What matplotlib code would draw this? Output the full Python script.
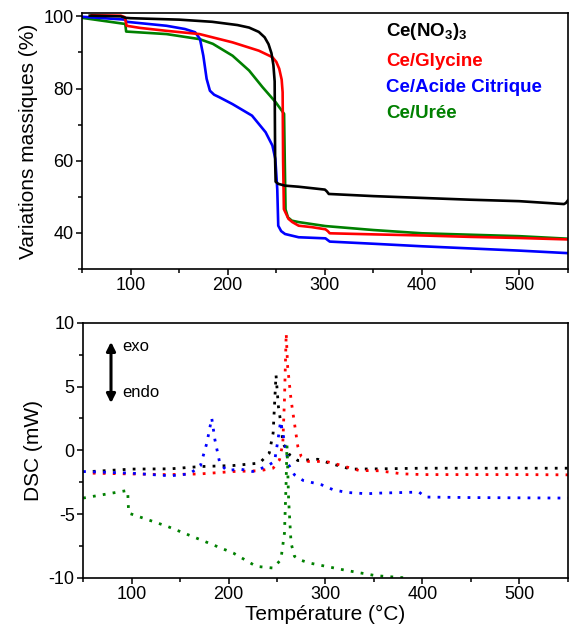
import matplotlib
matplotlib.use('Agg')
import matplotlib.pyplot as plt
from matplotlib.ticker import MultipleLocator

plt.rcParams['font.family'] = ['Liberation Sans', 'DejaVu Sans']
plt.rcParams['axes.unicode_minus'] = False
plt.rcParams['mathtext.fontset'] = 'custom'
plt.rcParams['mathtext.rm'] = 'Liberation Sans'
plt.rcParams['mathtext.bf'] = 'Liberation Sans:bold'

# --- TGA (mass %) ---
tga_black_x = [58, 90, 95, 100, 150, 184, 210, 222, 232, 238, 242, 245, 247, 248.3, 248.8, 249.3, 252, 259, 273, 290, 300, 302, 304, 350, 400, 450, 500, 546, 548, 550]
tga_black_y = [100.2, 100.0, 99.6, 99.5, 99.1, 98.5, 97.6, 96.9, 95.7, 94.2, 92.3, 89.8, 86.5, 82, 60, 54.2, 53.6, 53.1, 52.8, 52.3, 52.0, 51.5, 50.8, 50.2, 49.7, 49.2, 48.8, 48.0, 48.3, 49.0]

tga_red_x = [60, 90, 94, 96, 110, 137, 171, 205, 232, 246, 250, 253, 255.5, 256.5, 257, 257.8, 262.5, 266.5, 273, 286.6, 300.6, 303, 305, 350, 400, 450, 500, 550]
tga_red_y = [100.3, 100.2, 99.8, 97.4, 96.8, 96.0, 95.1, 92.8, 90.5, 88.7, 87.4, 85.5, 82.5, 79, 60, 46.6, 43.9, 43.0, 42.0, 41.6, 41.0, 40.5, 39.9, 39.6, 39.3, 38.9, 38.6, 38.2]

tga_blue_x = [50, 94.6, 96, 137, 156, 166.5, 171.5, 174.9, 178.3, 181.7, 186, 191.4, 204.9, 225, 239, 246, 249, 251, 252, 255, 259, 273, 300.6, 303, 305, 350, 400, 450, 500, 550]
tga_blue_y = [99.9, 99.1, 98.5, 97.4, 96.5, 95.6, 93.7, 89.1, 82.7, 79.4, 78.3, 77.6, 75.7, 72.5, 67.9, 64.2, 60.5, 52, 42, 40.5, 39.7, 38.8, 38.5, 38.0, 37.6, 37.0, 36.3, 35.7, 35.1, 34.4]

tga_green_x = [50, 94.6, 95.5, 137, 171, 184.7, 205, 222, 235.8, 249.4, 258, 258.7, 259.5, 262, 266, 273, 300.6, 350, 400, 450, 500, 550]
tga_green_y = [99.6, 97.9, 95.8, 95.1, 93.7, 92.4, 89.1, 85.0, 80.4, 76.2, 73.0, 60, 46.5, 44.3, 43.4, 43.0, 41.9, 40.8, 39.9, 39.5, 39.1, 38.4]

# --- DSC (mW) ---
dsc_black_x = [60, 100, 140, 171, 205, 232, 242, 246, 249, 251.5, 254.5, 256, 263, 271.5, 292, 304, 326, 355, 400, 450, 500, 550]
dsc_black_y = [-1.65, -1.47, -1.45, -1.27, -1.19, -1.0, -0.22, 1.35, 5.9, 3.4, 1.86, 0.56, -0.35, -0.8, -0.7, -1.0, -1.47, -1.45, -1.4, -1.4, -1.4, -1.4]

dsc_red_x = [60, 100, 137, 170, 205, 232, 246, 252.6, 256, 257.7, 259.5, 261, 264.5, 268, 271.5, 275, 282, 300.6, 312.5, 334.7, 355, 378.8, 400, 450, 500, 550]
dsc_red_y = [-1.79, -1.85, -1.9, -1.85, -1.66, -1.6, -1.4, -0.74, 0.56, 3.95, 9.17, 6.56, 3.95, 2.13, 0.3, -0.48, -0.87, -0.87, -1.1, -1.58, -1.6, -1.84, -1.9, -1.9, -1.9, -1.92]

dsc_blue_x = [50, 100, 140, 160, 171, 177.6, 182.7, 186, 191, 198, 212, 225, 239, 247.5, 251, 253.7, 256, 258.7, 262, 268, 277, 296, 308, 322, 342.5, 356, 382, 396.5, 403, 450, 500, 550]
dsc_blue_y = [-1.66, -1.79, -2.0, -1.84, -1.21, 0.56, 2.52, 0.82, -1.0, -1.58, -1.47, -1.66, -1.27, -0.87, 0.82, 2.26, 1.35, 0.3, -1.13, -1.92, -2.36, -2.7, -3.09, -3.3, -3.4, -3.35, -3.3, -3.27, -3.66, -3.7, -3.72, -3.74]

dsc_green_x = [50, 96, 97, 137, 171, 205, 228.6, 246, 254, 257.7, 259.4, 260.3, 262, 264.5, 268, 273, 283.6, 300.6, 321, 352, 384]
dsc_green_y = [-3.74, -3.14, -4.92, -5.96, -7.0, -8.05, -9.09, -9.22, -8.57, -6.48, -2.57, 0.4, -3.87, -7.26, -8.3, -8.57, -8.83, -9.09, -9.4, -9.82, -10.0]

labels = [r'Ce(NO$_{\mathbf{3}}$)$_{\mathbf{3}}$', 'Ce/Glycine', 'Ce/Acide Citrique', 'Ce/Urée']
colors = ['black', 'red', 'blue', 'green']


def style_axes(ax, ymin, ymax, ymaj, ymin_step):
    ax.set_xlim(50, 550)
    ax.set_ylim(ymin, ymax)
    ax.xaxis.set_major_locator(MultipleLocator(100))
    ax.xaxis.set_minor_locator(MultipleLocator(50))
    ax.yaxis.set_major_locator(MultipleLocator(ymaj))
    ax.yaxis.set_minor_locator(MultipleLocator(ymin_step))
    ax.tick_params(which='both', direction='out', labelsize=13, width=1.1, pad=2)
    ax.tick_params(which='major', length=4)
    ax.tick_params(which='minor', length=3)
    for s in ax.spines.values():
        s.set_linewidth(1.2)


fig = plt.figure(figsize=(5.69, 6.39), dpi=100)
ax1 = fig.add_axes([0.144, 0.579, 0.854, 0.401])
ax2 = fig.add_axes([0.146, 0.0955, 0.852, 0.3995])

tga = [(tga_black_x, tga_black_y), (tga_red_x, tga_red_y),
       (tga_blue_x, tga_blue_y), (tga_green_x, tga_green_y)]
# green under the others like the original
for i in [3, 2, 1, 0]:
    x, y = tga[i]
    ax1.plot(x, y, color=colors[i], lw=1.9)
style_axes(ax1, 30, 101, 20, 10)
ax1.set_ylabel('Variations massiques (%)', fontsize=15, labelpad=4)

leg_y = [95.7, 87.4, 80.2, 73.0]
for lab, c, yy in zip(labels, colors, leg_y):
    ax1.text(363, yy, lab, color=c, fontsize=13.5, fontweight='bold', va='center', ha='left')

dsc = [(dsc_black_x, dsc_black_y), (dsc_red_x, dsc_red_y),
       (dsc_blue_x, dsc_blue_y), (dsc_green_x, dsc_green_y)]
for (x, y), c in zip(dsc, colors):
    ax2.plot(x, y, color=c, lw=2.0, linestyle=(0, (1, 2.6)))
style_axes(ax2, -10, 10, 5, 2.5)
ax2.set_ylabel('DSC (mW)', fontsize=15, labelpad=4)
ax2.set_xlabel('Température (°C)', fontsize=15, labelpad=1)

ax2.annotate('', xy=(78.8, 8.5), xytext=(78.8, 3.7),
             arrowprops=dict(arrowstyle='<|-|>', color='black', lw=2.2,
                             mutation_scale=13, shrinkA=0, shrinkB=0))
ax2.text(90.5, 8.1, 'exo', fontsize=12, va='center', ha='left')
ax2.text(90.5, 4.5, 'endo', fontsize=12, va='center', ha='left')

fig.savefig('out.png', dpi=100)
